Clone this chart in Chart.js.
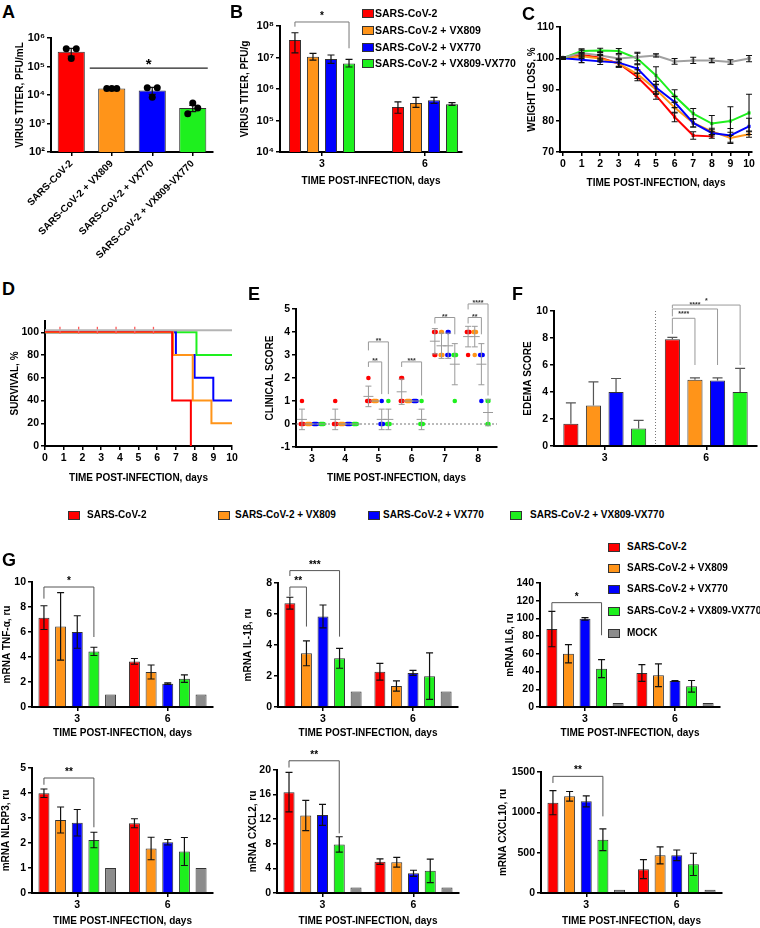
<!DOCTYPE html>
<html>
<head>
<meta charset="utf-8">
<title>SARS-CoV-2 + VX809 / VX770</title>
<script src="https://cdn.jsdelivr.net/npm/chart.js@4.4.1/dist/chart.umd.min.js"></script>
<style>
  html, body { margin: 0; padding: 0; background: #fff; }
  #page { position: relative; width: 760px; height: 928px; overflow: hidden; font-family: "Liberation Sans", Arial, sans-serif; }
  #page canvas { position: absolute; }
  .letter { position: absolute; font-weight: bold; font-size: 18px; line-height: 18px; z-index: 2; }
  .key { position: absolute; font-weight: bold; white-space: nowrap; line-height: 12px; z-index: 2; }
  .key i { position: absolute; top: 2px; width: 10px; height: 7px; border: 1px solid #333; }
</style>
</head>
<body>
<div id="page"></div>
<script>
// ---- data ----
const groupNames = ['SARS-CoV-2', 'SARS-CoV-2 + VX809', 'SARS-CoV-2 + VX770', 'SARS-CoV-2 + VX809-VX770', 'MOCK'];
const groupColors = ['#ff0000', '#ff9419', '#0000ff', '#1ef01e', '#8c8c8c'];
const dayLabels = ['3', '6'];
const dayValues = [3, 6];

// A: lung virus titer (log)
const titerATicks = [1e2, 1e3, 1e4, 1e5, 1e6];
const titerAMean = [3.3e5, 1.7e4, 1.45e4, 3.5e3];
const titerALo = [2.3e5, 1.65e4, 1.05e4, 2.6e3];
const titerAHi = [4.3e5, 1.75e4, 1.85e4, 4.3e3];
const titerADots = [[4.2e5, 1.9e5, 4.2e5], [1.7e4, 1.7e4, 1.7e4], [1.8e4, 8.3e3, 1.8e4], [2.2e3, 5.2e3, 3.5e3]];

// B: virus titer by day (log)
const titerBTicks = [1e4, 1e5, 1e6, 1e7, 1e8];
const titerBMean = [[3.6e7, 2.7e5], [1.05e7, 3.6e5], [8.9e6, 4.4e5], [6.5e6, 3.3e5]];
const titerBLo = [[1.4e7, 1.7e5], [8.3e6, 2.6e5], [6.5e6, 3.5e5], [5.0e6, 3.0e5]];
const titerBHi = [[6.1e7, 3.9e5], [1.35e7, 5.4e5], [1.2e7, 5.4e5], [8.7e6, 3.7e5]];

// C: weight loss
const weightDays = [0, 1, 2, 3, 4, 5, 6, 7, 8, 9, 10];
const weightMock = [100.2, 101.7, 100.9, 99.9, 100.4, 100.9, 99.0, 99.3, 99.3, 98.8, 99.9];
const weightMockErr = [0.3, 0.9, 1.2, 1.2, 1.2, 0.5, 0.9, 1.0, 0.7, 0.7, 1.0];
const weightCombo = [100, 102.3, 102.5, 102.3, 99.9, 94.5, 87.9, 82.3, 79.1, 79.9, 82.5];
const weightComboErr = [0.3, 0.7, 0.7, 0.8, 2.0, 2.8, 2.0, 1.6, 2.6, 4.6, 6.0];
const weightVX770 = [100, 99.5, 99.0, 98.6, 96.7, 90.6, 86.0, 79.3, 76.1, 75.3, 78.2];
const weightVX770Err = [0.3, 0.9, 1.0, 1.2, 1.5, 2.0, 1.8, 1.3, 1.0, 2.2, 2.6];
const weightVX809 = [100, 100.6, 99.9, 98.3, 94.9, 90.0, 84.2, 79.3, 76.6, 74.5, 75.7];
const weightVX809Err = [0.3, 0.7, 1.0, 1.2, 1.4, 1.5, 1.7, 1.3, 1.0, 1.8, 1.0];
const weightVirus = [100, 101.1, 100.2, 98.3, 94.0, 88.1, 81.2, 75.3, 75.0];
const weightVirusErr = [0.3, 0.7, 1.0, 1.2, 1.2, 1.2, 1.5, 1.2, 0.6];

// D: survival (step times / percent)
const survTicks = [0, 20, 40, 60, 80, 100];
const survVirusT = [0, 6.8, 7.8];
const survVirusP = [100.7, 40, 0];
const survVX809T = [0, 6.85, 7.9, 8.9, 10];
const survVX809P = [100, 80, 40, 20, 20];
const survVX770T = [0, 7.0, 8.0, 9.0, 10];
const survVX770P = [100, 80, 60, 40, 40];
const survComboT = [0, 8.1, 10];
const survComboP = [100, 80, 80];
const survMockT = [0, 10];
const survMockP = [101.8, 101.8];
const censorT = [0.8, 1.8, 2.8, 3.8, 4.8, 5.8];

// E: clinical score per animal
const scoreDays = [3, 4, 5, 6, 7, 8];
const scoreVirus = [[1, 0, 0, 0, 0], [1, 0, 0, 0, 0], [2, 1, 1, 1, 1], [2, 2, 1, 1, 1], [4, 4, 4, 3, 3], [4, 4, 4, 4, 3]];
const scoreVX809 = [[0, 0, 0, 0, 0], [0, 0, 0, 0, 0], [1, 1, 1, 1, 1], [1, 1, 1, 1, 1], [4, 4, 3, 3, 3], [4, 4, 4, 4, 3]];
const scoreVX770 = [[0, 0, 0, 0, 0], [0, 0, 0, 0, 0], [1, 0, 0, 0, 0], [1, 1, 1, 1, 1], [4, 4, 3, 3, 3], [3, 3, 3, 3, 1]];
const scoreCombo = [[0, 0, 0, 0, 0], [0, 0, 0, 0, 0], [1, 0, 0, 0, 0], [1, 0, 0, 0, 0], [3, 3, 3, 3, 1], [1, 1, 0, 0]];

// F: edema score
const edemaMean = [[1.65, 7.9], [3.0, 4.9], [4.0, 4.85], [1.3, 4.0]];
const edemaErr = [[1.55, 0.15], [1.75, 0.15], [1.0, 0.2], [0.6, 1.75]];

// G: mRNA levels (groups x day)
const tnfMean = [[7.15, 3.65], [6.45, 2.8], [6.0, 1.87], [4.45, 2.27], [1, 1]];
const tnfErr = [[0.95, 0.23], [2.7, 0.56], [1.3, 0.06], [0.33, 0.3], [0, 0]];
const il1bMean = [[6.7, 2.27], [3.46, 1.36], [5.84, 2.2], [3.14, 1.99], [1, 1]];
const il1bErr = [[0.38, 0.54], [0.8, 0.33], [0.74, 0.16], [0.64, 1.5], [0, 0]];
const il6Mean = [[88, 38.4], [60.2, 35.8], [99.5, 29.4], [43.3, 23.3], [4.5, 4.5]];
const il6Err = [[20, 9.5], [10.3, 12.8], [1.5, 0.5], [10.2, 6.6], [0, 0]];
const nlrp3Mean = [[3.99, 2.79], [2.92, 1.78], [2.81, 2.03], [2.12, 1.66], [1, 1]];
const nlrp3Err = [[0.17, 0.18], [0.52, 0.45], [0.53, 0.11], [0.31, 0.56], [0, 0]];
const cxcl2Mean = [[16.4, 5.1], [12.6, 5.0], [12.7, 3.2], [7.9, 3.6], [0.9, 0.9]];
const cxcl2Err = [[3.2, 0.45], [2.45, 0.8], [1.7, 0.5], [1.25, 1.9], [0, 0]];
const cxcl10Mean = [[1120, 295], [1198, 467], [1136, 467], [661, 355], [40, 40]];
const cxcl10Err = [[150, 118], [60, 105], [68, 66], [135, 138], [0, 0]];

// ---- helpers ----
const page = document.getElementById('page');
const FONT = '"Liberation Sans", Arial, sans-serif';
Chart.defaults.font.family = FONT;
Chart.defaults.color = '#000';
const SUP = ['\u2070', '\u00b9', '\u00b2', '\u00b3', '\u2074', '\u2075', '\u2076', '\u2077', '\u2078', '\u2079'];
const pow10Label = v => '10' + SUP[Math.round(Math.log10(v))];
const plainLabel = v => String(v);
const xTitle = 'TIME POST-INFECTION, days';

function axis(pos, size, o) {
  o = o || {};
  const a = {
    position: pos,
    grid: { display: true, drawOnChartArea: false, drawTicks: true, tickLength: 4, color: '#000', lineWidth: 1.5, offset: false },
    border: { display: true, color: '#000', width: 2 },
    ticks: { color: '#000', font: { size: o.tickSize || 10.5, weight: 'bold' }, padding: 2, autoSkip: false,
             maxRotation: o.rot || 0, minRotation: o.rot || 0 },
    title: { display: !!o.title, text: o.title || '', color: '#000', font: { size: o.titleSize || 10, weight: 'bold' }, padding: 0 },
    afterFit(s) {
      if (pos === 'left') s.width = size; else s.height = size;
      s.paddingLeft = s.paddingRight = s.paddingTop = s.paddingBottom = 0;
    }
  };
  ['type', 'min', 'max', 'offset', 'afterBuildTicks'].forEach(k => { if (o[k] !== undefined) a[k] = o[k]; });
  if (o.stepSize) a.ticks.stepSize = o.stepSize;
  if (o.callback) a.ticks.callback = o.callback;
  return a;
}

// error bars from errLo / errHi arrays, through the value scale
const errorBars = {
  id: 'errorBars',
  afterDatasetsDraw(chart) {
    const ctx = chart.ctx;
    chart.data.datasets.forEach((ds, di) => {
      if (!ds.errHi) return;
      const meta = chart.getDatasetMeta(di);
      const ys = chart.scales[meta.yAxisID];
      const cap = ds.errCap || 3.5;
      ctx.save();
      ctx.strokeStyle = ds.errColor || '#111';
      ctx.lineWidth = ds.errWidth || 1.2;
      meta.data.forEach((el, i) => {
        const lo = ds.errLo[i], hi = ds.errHi[i];
        if (lo == null || hi == null || hi === lo) return;
        const x = el.x, y1 = ys.getPixelForValue(lo), y2 = ys.getPixelForValue(hi);
        ctx.beginPath();
        ctx.moveTo(x, y1); ctx.lineTo(x, y2);
        ctx.moveTo(x - cap, y2); ctx.lineTo(x + cap, y2);
        if (!ds.errUpOnly) { ctx.moveTo(x - cap, y1); ctx.lineTo(x + cap, y1); }
        ctx.stroke();
      });
      ctx.restore();
    });
  }
};

// significance brackets
const brackets = {
  id: 'brackets',
  afterDraw(chart, args, opts) {
    const items = (opts && opts.items) || [];
    if (!items.length) return;
    const ctx = chart.ctx, xs = chart.scales.x, ys = chart.scales.y;
    const px = (ref, val) => ref ? chart.getDatasetMeta(ref[0]).data[ref[1]].x : xs.getPixelForValue(val);
    ctx.save();
    items.forEach(b => {
      const x1 = px(b.a, b.xa) + (b.dxa || 0), x2 = px(b.b, b.xb) + (b.dxb || 0);
      const yt = ys.getPixelForValue(b.y);
      ctx.strokeStyle = opts.color || '#555';
      ctx.lineWidth = opts.width || 1;
      ctx.beginPath();
      if (b.legA != null) { ctx.moveTo(x1, ys.getPixelForValue(b.legA)); ctx.lineTo(x1, yt); } else ctx.moveTo(x1, yt);
      ctx.lineTo(x2, yt);
      if (b.legB != null) ctx.lineTo(x2, ys.getPixelForValue(b.legB));
      ctx.stroke();
      ctx.fillStyle = opts.textColor || '#000';
      ctx.font = 'bold ' + (opts.size || 10) + 'px ' + FONT;
      ctx.textAlign = 'center';
      ctx.textBaseline = 'alphabetic';
      ctx.fillText(b.text, (x1 + x2) / 2, yt + (opts.base != null ? opts.base : -3));
    });
    ctx.restore();
  }
};

// dots, mean/SD marks, reference lines
const extras = {
  id: 'extras',
  beforeDatasetsDraw(chart, args, opts) {
    const ctx = chart.ctx, a = chart.chartArea;
    ctx.save();
    ctx.strokeStyle = '#777';
    ctx.lineWidth = 1;
    if (opts.zeroLine) {
      const y = chart.scales.y.getPixelForValue(0);
      ctx.setLineDash([2, 2]);
      ctx.beginPath(); ctx.moveTo(a.left, y); ctx.lineTo(a.right, y); ctx.stroke();
    }
    if (opts.separator != null) {
      const x = chart.scales.x.getPixelForValue(opts.separator);
      ctx.setLineDash([1, 2]);
      ctx.beginPath(); ctx.moveTo(x, a.top); ctx.lineTo(x, a.bottom); ctx.stroke();
    }
    ctx.restore();
  },
  afterDatasetsDraw(chart) {
    const ctx = chart.ctx;
    chart.data.datasets.forEach((ds, di) => {
      const meta = chart.getDatasetMeta(di);
      const ys = chart.scales[meta.yAxisID], xs = chart.scales[meta.xAxisID];
      if (ds.dots) {
        ctx.save();
        ctx.fillStyle = '#000';
        meta.data.forEach((el, i) => {
          ds.dots[i].forEach((v, k) => {
            ctx.beginPath();
            ctx.arc(el.x + (k - 1) * 5, ys.getPixelForValue(v), 3.5, 0, Math.PI * 2);
            ctx.fill();
          });
        });
        ctx.restore();
      }
      if (ds.meanSd) {
        ctx.save();
        ctx.strokeStyle = '#9a9a9a';
        ctx.lineWidth = 1;
        ds.meanSd.forEach((vals, d) => {
          const n = vals.length;
          const m = vals.reduce((s, v) => s + v, 0) / n;
          const sd = Math.sqrt(vals.reduce((s, v) => s + (v - m) * (v - m), 0) / (n - 1));
          const x = xs.getPixelForValue(scoreDays[d] + ds.xOffset);
          const ym = ys.getPixelForValue(m), y1 = ys.getPixelForValue(m - sd), y2 = ys.getPixelForValue(m + sd);
          ctx.beginPath();
          ctx.moveTo(x - 5, ym); ctx.lineTo(x + 5, ym);
          if (sd > 0) {
            ctx.moveTo(x, y1); ctx.lineTo(x, y2);
            ctx.moveTo(x - 3, y1); ctx.lineTo(x + 3, y1);
            ctx.moveTo(x - 3, y2); ctx.lineTo(x + 3, y2);
          }
          ctx.stroke();
        });
        ctx.restore();
      }
    });
  }
};

function makeChart(plot, yW, xH, padT, padR, config) {
  const c = document.createElement('canvas');
  const w = plot.r - plot.l + yW + padR, h = plot.b - plot.t + padT + xH;
  c.width = w; c.height = h;
  c.style.width = w + 'px'; c.style.height = h + 'px';
  c.style.left = (plot.l - yW) + 'px'; c.style.top = (plot.t - padT) + 'px';
  page.appendChild(c);
  const o = config.options = config.options || {};
  o.responsive = false;
  o.animation = false;
  o.devicePixelRatio = 1;
  o.layout = { padding: { top: padT, right: padR, left: 0, bottom: 0 } };
  o.plugins = Object.assign({ legend: { display: false }, tooltip: { enabled: false } }, o.plugins || {});
  config.plugins = [errorBars, brackets, extras];
  return new Chart(c, config);
}

function barSets(means, errs, cp, bp, upOnly) {
  return means.map((m, g) => ({
    label: groupNames[g], data: m,
    backgroundColor: groupColors[g], borderColor: '#333', borderWidth: 1,
    categoryPercentage: cp, barPercentage: bp,
    errLo: upOnly ? m.slice() : m.map((v, i) => v - errs[g][i]),
    errHi: m.map((v, i) => v + errs[g][i]),
    errUpOnly: !!upOnly, errColor: upOnly ? '#555' : '#111', errCap: upOnly ? 5 : 3.5
  }));
}

function genePanel(plot, yW, xH, padT, means, errs, yMax, step, title, br) {
  return makeChart(plot, yW, xH, padT, 4, {
    type: 'bar',
    data: { labels: dayLabels, datasets: barSets(means, errs, 0.92, 0.66) },
    options: {
      scales: {
        x: axis('bottom', xH, { title: xTitle }),
        y: axis('left', yW, { min: 0, max: yMax, stepSize: step, title: title, callback: plainLabel })
      },
      plugins: { brackets: { items: br, size: 10 } }
    }
  });
}

// ---- A ----
makeChart({ l: 51, t: 38, r: 213, b: 152 }, 37, 120, 10, 4, {
  type: 'bar',
  data: {
    labels: groupNames.slice(0, 4),
    datasets: [{
      data: titerAMean, backgroundColor: groupColors.slice(0, 4), borderColor: '#333', borderWidth: 1,
      categoryPercentage: 1, barPercentage: 0.67,
      errLo: titerALo, errHi: titerAHi, dots: titerADots
    }]
  },
  options: {
    scales: {
      x: axis('bottom', 120, { rot: 45, tickSize: 10 }),
      y: axis('left', 37, {
        type: 'logarithmic', min: 1e2, max: 1e6, title: 'VIRUS TITER, PFU/mL', tickSize: 11,
        afterBuildTicks: s => { s.ticks = titerATicks.map(v => ({ value: v })); }, callback: pow10Label
      })
    },
    plugins: { brackets: { items: [{ a: [0, 1], b: [0, 3], dxa: -22, dxb: 15, y: 8.8e4, text: '*' }], size: 15, base: 1, color: '#222', width: 1.3 } }
  }
});

// ---- B ----
makeChart({ l: 280, t: 26, r: 462, b: 152 }, 41, 35, 24, 4, {
  type: 'bar',
  data: {
    datasets: titerBMean.map((m, g) => ({
      label: groupNames[g], data: dayValues.map((d, i) => ({ x: d, y: m[i] })),
      backgroundColor: groupColors[g], borderColor: '#333', borderWidth: 1,
      categoryPercentage: 0.70, barPercentage: 0.67,
      errLo: titerBLo[g], errHi: titerBHi[g]
    }))
  },
  options: {
    scales: {
      x: axis('bottom', 35, {
        type: 'linear', min: 1.777, max: 7.078, offset: false, title: xTitle,
        afterBuildTicks: s => { s.ticks = dayValues.map(v => ({ value: v })); }
      }),
      y: axis('left', 41, {
        type: 'logarithmic', min: 1e4, max: 1e8, title: 'VIRUS TITER, PFU/g', tickSize: 11,
        afterBuildTicks: s => { s.ticks = titerBTicks.map(v => ({ value: v })); }, callback: pow10Label
      })
    },
    plugins: { brackets: { items: [{ a: [0, 0], b: [3, 0], y: 1.34e8, legA: 9.5e7, legB: 1.96e7, text: '*' }], size: 10, color: '#777' } }
  }
});

// ---- C ----
function weightSet(vals, errs, g) {
  return {
    label: groupNames[g], data: vals.map((v, i) => ({ x: weightDays[i], y: v })),
    borderColor: groupColors[g], backgroundColor: groupColors[g], borderWidth: 2,
    pointStyle: 'rect', pointRadius: 2.2, pointBorderWidth: 0, tension: 0,
    errLo: vals.map((v, i) => v - errs[i]), errHi: vals.map((v, i) => v + errs[i]),
    errColor: '#111', errCap: 3, errWidth: 1.1
  };
}
makeChart({ l: 560, t: 27, r: 752, b: 152 }, 34, 37, 10, 8, {
  type: 'line',
  data: {
    datasets: [
      Object.assign(weightSet(weightMock, weightMockErr, 4), { borderColor: '#a0a0a0', backgroundColor: '#a0a0a0', pointStyle: 'circle' }),
      weightSet(weightCombo, weightComboErr, 3),
      weightSet(weightVX770, weightVX770Err, 2),
      weightSet(weightVX809, weightVX809Err, 1),
      weightSet(weightVirus, weightVirusErr, 0)
    ]
  },
  options: {
    scales: {
      x: axis('bottom', 37, {
        type: 'linear', min: -0.16, max: 10.16, title: xTitle,
        afterBuildTicks: s => { s.ticks = weightDays.map(v => ({ value: v })); }
      }),
      y: axis('left', 34, { min: 70, max: 110, stepSize: 10, title: 'WEIGHT LOSS, %' })
    }
  }
});

// ---- D ----
function survSet(ts, ps, color) {
  return {
    data: ts.map((t, i) => ({ x: t, y: ps[i] })), borderColor: color, borderWidth: 2,
    stepped: true, pointRadius: 0, fill: false
  };
}
makeChart({ l: 45, t: 321, r: 232, b: 446 }, 36, 38, 10, 8, {
  type: 'line',
  data: {
    datasets: [
      survSet(survMockT, survMockP, '#b4b4b4'),
      {
        data: censorT.map(t => ({ x: t, y: survMockP[0] })), showLine: false,
        pointStyle: 'line', rotation: 90, pointRadius: 3.5,
        borderColor: '#ff5a5a', pointBorderColor: '#ff5a5a', pointBorderWidth: 1.3, borderWidth: 1.3
      },
      survSet(survVirusT, survVirusP, groupColors[0]),
      survSet(survVX809T, survVX809P, groupColors[1]),
      survSet(survVX770T, survVX770P, groupColors[2]),
      survSet(survComboT, survComboP, groupColors[3])
    ]
  },
  options: {
    scales: {
      x: axis('bottom', 38, { type: 'linear', min: 0, max: 10, stepSize: 1, title: xTitle }),
      y: axis('left', 36, {
        min: 0, max: 110, title: 'SURVIVAL, %',
        afterBuildTicks: s => { s.ticks = survTicks.map(v => ({ value: v })); }
      })
    }
  }
});

// ---- E ----
const scoreOffsets = [-0.3, -0.1, 0.1, 0.3];
function scoreSet(vals, g) {
  const pts = [];
  vals.forEach((arr, d) => {
    const counts = {}, seen = {};
    arr.forEach(v => { counts[v] = (counts[v] || 0) + 1; });
    arr.forEach(v => {
      seen[v] = (seen[v] || 0) + 1;
      const spread = (seen[v] - 1 - (counts[v] - 1) / 2) * 0.025;
      pts.push({ x: scoreDays[d] + scoreOffsets[g] + spread, y: v });
    });
  });
  return {
    data: pts, backgroundColor: groupColors[g], borderWidth: 0, pointRadius: 2.3,
    meanSd: vals, xOffset: scoreOffsets[g]
  };
}
const eX = (day, g) => day + scoreOffsets[g];
makeChart({ l: 296, t: 309, r: 497, b: 447 }, 32, 37, 16, 4, {
  type: 'scatter',
  data: { datasets: [scoreSet(scoreVirus, 0), scoreSet(scoreVX809, 1), scoreSet(scoreVX770, 2), scoreSet(scoreCombo, 3)] },
  options: {
    scales: {
      x: axis('bottom', 37, {
        type: 'linear', min: 2.52, max: 8.57, title: xTitle,
        afterBuildTicks: s => { s.ticks = scoreDays.map(v => ({ value: v })); }
      }),
      y: axis('left', 32, { min: -1, max: 5, stepSize: 1, title: 'CLINICAL SCORE' })
    },
    plugins: {
      extras: { zeroLine: true },
      brackets: {
        size: 7, base: 1, color: '#999', textColor: '#333',
        items: [
          { xa: eX(5, 0), xb: eX(5, 2), y: 2.7, legA: 2.48, legB: 1.3, text: '**' },
          { xa: eX(5, 0), xb: eX(5, 3), y: 3.57, legA: 3.2, legB: 1.3, text: '**' },
          { xa: eX(6, 0), xb: eX(6, 3), y: 2.7, legA: 2.48, legB: 1.24, text: '***' },
          { xa: eX(7, 0), xb: eX(7, 3), y: 4.63, legA: 4.37, legB: 3.9, text: '**' },
          { xa: eX(8, 0), xb: eX(8, 2), y: 4.63, legA: 4.37, legB: 3.9, text: '**' },
          { xa: eX(8, 0), xb: eX(8, 3), y: 5.22, legA: 4.98, legB: 1.24, text: '****' }
        ]
      }
    }
  }
});

// ---- F ----
makeChart({ l: 554, t: 311, r: 757, b: 446 }, 32, 25, 20, 2, {
  type: 'bar',
  data: { labels: dayLabels, datasets: barSets(edemaMean, edemaErr, 0.89, 0.67, true) },
  options: {
    scales: {
      x: axis('bottom', 25, {}),
      y: axis('left', 32, { min: 0, max: 10, stepSize: 2, title: 'EDEMA SCORE' })
    },
    plugins: {
      extras: { separator: 0.5 },
      brackets: {
        size: 7, base: -2, color: '#999', textColor: '#333',
        items: [
          { a: [0, 1], b: [1, 1], y: 9.46, legA: 8.3, legB: 6.0, text: '****' },
          { a: [0, 1], b: [2, 1], y: 10.15, legA: 9.6, legB: 6.0, text: '****' },
          { a: [0, 1], b: [3, 1], y: 10.44, legA: 10.2, legB: 6.0, text: '*' }
        ]
      }
    }
  }
});

// ---- G ----
genePanel({ l: 32, t: 582, r: 213, b: 707 }, 31, 32, 14, tnfMean, tnfErr, 10, 2, 'mRNA TNF-\u03b1, ru',
  [{ a: [0, 0], b: [3, 0], y: 9.6, legA: 8.67, legB: 5.6, text: '*' }]);
genePanel({ l: 278, t: 583, r: 458, b: 707 }, 36, 32, 24, il1bMean, il1bErr, 8, 2, 'mRNA IL-1\u03b2, ru',
  [{ a: [0, 0], b: [1, 0], y: 7.74, legA: 7.14, legB: 5.19, text: '**' },
   { a: [0, 0], b: [3, 0], y: 8.8, legA: 8.45, legB: 4.54, text: '***' }]);
genePanel({ l: 540, t: 583, r: 720, b: 707 }, 36, 32, 10, il6Mean, il6Err, 140, 20, 'mRNA IL6, ru',
  [{ a: [0, 0], b: [3, 0], y: 117.8, legA: 108.4, legB: 81, text: '*' }]);
genePanel({ l: 32, t: 768, r: 213, b: 893 }, 32, 34, 12, nlrp3Mean, nlrp3Err, 5, 1, 'mRNA NLRP3, ru',
  [{ a: [0, 0], b: [3, 0], y: 4.6, legA: 4.33, legB: 2.63, text: '**' }]);
genePanel({ l: 277, t: 770, r: 459, b: 893 }, 30, 34, 22, cxcl2Mean, cxcl2Err, 20, 4, 'mRNA CXCL2, ru',
  [{ a: [0, 0], b: [3, 0], y: 21.5, legA: 20.4, legB: 9.7, text: '**' }]);
genePanel({ l: 541, t: 772, r: 722, b: 893 }, 44, 34, 10, cxcl10Mean, cxcl10Err, 1500, 500, 'mRNA CXCL10, ru',
  [{ a: [0, 0], b: [3, 0], y: 1446, legA: 1364, legB: 950, text: '**' }]);

// ---- letters and keys ----
[['A', 2, 3], ['B', 230, 3], ['C', 522, 5], ['D', 2, 280], ['E', 248, 285], ['F', 512, 285], ['G', 2, 551]]
  .forEach(([t, x, y]) => {
    const d = document.createElement('div');
    d.className = 'letter'; d.textContent = t;
    d.style.left = x + 'px'; d.style.top = y + 'px';
    page.appendChild(d);
  });

function key(g, sqX, txtX, yc, size) {
  const d = document.createElement('div');
  d.className = 'key';
  d.style.left = txtX + 'px'; d.style.top = (yc - 6) + 'px'; d.style.fontSize = size + 'px';
  const sq = document.createElement('i');
  sq.style.left = (sqX - txtX) + 'px'; sq.style.background = groupColors[g];
  d.appendChild(sq);
  d.appendChild(document.createTextNode(groupNames[g]));
  page.appendChild(d);
}
[13, 30, 47, 63].forEach((y, g) => key(g, 362, 375, y, 10.5));
[[68, 87], [218, 235], [368, 383], [510, 530]].forEach(([s, t], g) => key(g, s, t, 515, 10));
[547, 568, 589, 611, 633].forEach((y, g) => key(g, 608, 627, y, 10));
</script>
</body>
</html>
